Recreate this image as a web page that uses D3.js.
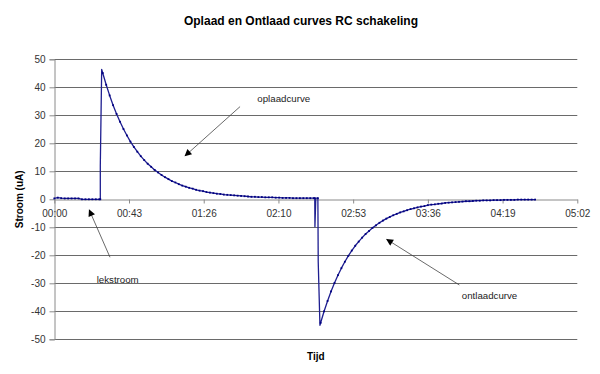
<!DOCTYPE html>
<html>
<head>
<meta charset="utf-8">
<script src="https://cdn.jsdelivr.net/npm/d3@7"></script>
<style>
  html, body { margin: 0; padding: 0; background: #fff; }
  svg { display: block; font-family: "Liberation Sans", Arial, sans-serif; }
</style>
</head>
<body>
<svg id="chart" width="600" height="374"></svg>
<script>
// ---- data (time in seconds, current in uA) ----
const timeSec = [
  0, 2, 4, 6, 8, 10, 12, 14, 16, 18, 20, 22, 24, 26, 26.6, 26.6, 27.4,
  28, 30, 32, 34, 36, 38, 40, 42, 44, 46, 48, 50, 52, 54, 56, 58, 60,
  62, 64, 66, 68, 70, 72, 74, 76, 78, 80, 82, 84, 86, 88, 90, 92, 94,
  96, 98, 100, 102, 104, 106, 108, 110, 112, 114, 116, 118, 120, 122,
  124, 126, 128, 130, 132, 134, 136, 138, 140, 142, 144, 146, 148, 150,
  150.6, 150.7, 151.2, 152.4, 152.6, 153.6,
  154, 156, 158, 160, 162, 164, 166, 168, 170, 172, 174, 176, 178, 180,
  182, 184, 186, 188, 190, 192, 194, 196, 198, 200, 202, 204, 206, 208,
  210, 212, 214, 216, 218, 220, 222, 224, 226, 228, 230, 232, 234, 236,
  238, 240, 242, 244, 246, 248, 250, 252, 254, 256, 258, 260, 262, 264,
  266, 268, 270, 272, 274, 276, 278
];
const currentUA = [
  0.3, 0.6, 0.4, 0.3, 0.3, 0.3, 0.3, 0.3, 0.0, 0.0, 0.0, 0.0, 0.0, 0.0, 0.0, 12.0, 46.4,
  45.1, 40.9, 37.1, 33.6, 30.5, 27.7, 25.1, 22.8, 20.6, 18.7, 17.0, 15.4, 14.0, 12.7, 11.6, 10.5, 9.6,
  8.7, 7.9, 7.2, 6.5, 6.0, 5.4, 4.9, 4.5, 4.1, 3.8, 3.4, 3.1, 2.9, 2.6, 2.4, 2.2, 2.0,
  1.9, 1.7, 1.6, 1.5, 1.4, 1.3, 1.2, 1.1, 1.0, 0.9, 0.9, 0.8, 0.8, 0.7,
  0.7, 0.7, 0.6, 0.6, 0.5, 0.5, 0.5, 0.4, 0.4, 0.4, 0.4, 0.4, 0.4, 0.4,
  0.4, -9.8, 0.4, 0.4, -22.3, -45.0,
  -44.1, -40.0, -36.3, -32.9, -29.9, -27.1, -24.6, -22.3, -20.2, -18.3, -16.6, -15.1, -13.7, -12.4,
  -11.3, -10.2, -9.3, -8.4, -7.6, -6.9, -6.3, -5.7, -5.2, -4.7, -4.3, -3.9, -3.5, -3.2,
  -2.9, -2.6, -2.4, -2.1, -1.9, -1.8, -1.6, -1.5, -1.3, -1.2, -1.1, -1.0, -0.9, -0.8,
  -0.7, -0.7, -0.6, -0.5, -0.5, -0.4, -0.4, -0.4, -0.3, -0.3, -0.3, -0.2, -0.2, -0.2,
  -0.2, -0.1, -0.1, -0.1, -0.1, -0.1, -0.1
];
const xTickSec = [0, 43.2, 86.4, 129.6, 172.8, 216, 259.2, 302.4];
const xTickLabels = ["00:00", "00:43", "01:26", "02:10", "02:53", "03:36", "04:19", "05:02"];
const yTicks = [-50, -40, -30, -20, -10, 0, 10, 20, 30, 40, 50];

const titleText = "Oplaad en Ontlaad curves RC schakeling";
const xTitle = "Tijd";
const yTitle = "Stroom (uA)";

// annotations in data coordinates: label anchor and arrow from -> to
const annLabels = ["oplaadcurve", "lekstroom", "ontlaadcurve"];
const annTextT = [117.4, 24.5, 235.6];
const annTextV = [36.1, -28.5, -34.4];
const annFromT = [107.4, 32.2, 234.2];
const annFromV = [33.1, -20.7, -30.6];
const annToT = [75.6, 20.2, 192.2];
const annToV = [15.5, -3.8, -14.3];

// ---- drawing ----
const svg = d3.select("#chart");
const plotL = 54.3, plotR = 577.3, plotT = 59.3, plotB = 339.3;

const x = d3.scaleLinear().domain([0, 302.4]).range([plotL, plotR]);
const y = d3.scaleLinear().domain([-50, 50]).range([plotB, plotT]);

// gridlines
svg.append("g").selectAll("line")
  .data(yTicks.filter(d => d !== 0))
  .join("line")
  .attr("x1", plotL).attr("x2", plotR)
  .attr("y1", d => Math.round(y(d)) + 0.5).attr("y2", d => Math.round(y(d)) + 0.5)
  .attr("stroke", "#6a6a6a").attr("stroke-width", 1);

// y axis
const yAxis = d3.axisLeft(y).tickValues(yTicks).tickSize(5).tickPadding(4).tickFormat(d => String(d));
const gy = svg.append("g").attr("transform", `translate(${Math.round(plotL) + 0.5},0)`).call(yAxis);
gy.select(".domain").attr("stroke", "#8a8a8a");
gy.selectAll(".tick line").attr("stroke", "#8a8a8a");
gy.selectAll(".tick text").attr("font-size", "10px").attr("fill", "#333")
  .attr("font-family", "Liberation Sans, Arial, sans-serif");

// x axis at y=0
const xAxis = d3.axisBottom(x).tickValues(xTickSec).tickSize(4).tickPadding(6)
  .tickFormat((d, i) => xTickLabels[i]).tickSizeOuter(0);
const gx = svg.append("g").attr("transform", `translate(0,${Math.round(y(0)) + 0.5})`).call(xAxis);
gx.select(".domain").attr("stroke", "#8a8a8a");
gx.selectAll(".tick line").attr("stroke", "#8a8a8a");
gx.selectAll(".tick text").attr("font-size", "10px").attr("fill", "#333")
  .attr("font-family", "Liberation Sans, Arial, sans-serif");

// data
const pts = timeSec.map((t, i) => [t, currentUA[i]]);
const line = d3.line().x(d => x(d[0])).y(d => y(d[1]));
svg.append("path").datum(pts).attr("d", line)
  .attr("fill", "none").attr("stroke", "#1e1e90").attr("stroke-width", 1.3)
  .attr("stroke-linejoin", "round");
svg.append("g").selectAll("rect")
  .data(pts.filter((d, i) => !(i > 0 && i < pts.length - 1 && Math.abs(d[1] - pts[i-1][1]) > 5 && Math.abs(d[0] - pts[i-1][0]) < 1.5)))
  .join("rect")
  .attr("x", d => x(d[0]) - 0.9).attr("y", d => y(d[1]) - 0.9)
  .attr("width", 1.8).attr("height", 1.8)
  .attr("fill", "#000080");

// titles
svg.append("text").attr("x", 301).attr("y", 25).attr("text-anchor", "middle")
  .attr("font-size", "12px").attr("font-weight", "bold").attr("fill", "#000").text(titleText);
svg.append("text").attr("x", (plotL + plotR) / 2).attr("y", 359.5).attr("text-anchor", "middle")
  .attr("font-size", "10px").attr("font-weight", "bold").attr("fill", "#000").text(xTitle);
svg.append("text").attr("transform", `translate(22.5,${y(0)}) rotate(-90)`).attr("text-anchor", "middle")
  .attr("font-size", "10px").attr("font-weight", "bold").attr("fill", "#000").text(yTitle);

// annotations
svg.append("defs").append("marker")
  .attr("id", "arrow").attr("viewBox", "0 0 10 10").attr("refX", 9).attr("refY", 5)
  .attr("markerWidth", 9).attr("markerHeight", 7).attr("markerUnits", "userSpaceOnUse")
  .attr("orient", "auto")
  .append("path").attr("d", "M0,0 L10,5 L0,10 Z").attr("fill", "#000");

annLabels.forEach((lab, i) => {
  svg.append("line")
    .attr("x1", x(annFromT[i])).attr("y1", y(annFromV[i]))
    .attr("x2", x(annToT[i])).attr("y2", y(annToV[i]))
    .attr("stroke", "#444").attr("stroke-width", 0.8)
    .attr("marker-end", "url(#arrow)");
  svg.append("text").attr("x", x(annTextT[i])).attr("y", y(annTextV[i]) + 3.5)
    .attr("font-size", "9.7px").attr("fill", "#222").text(lab);
});
</script>
</body>
</html>
